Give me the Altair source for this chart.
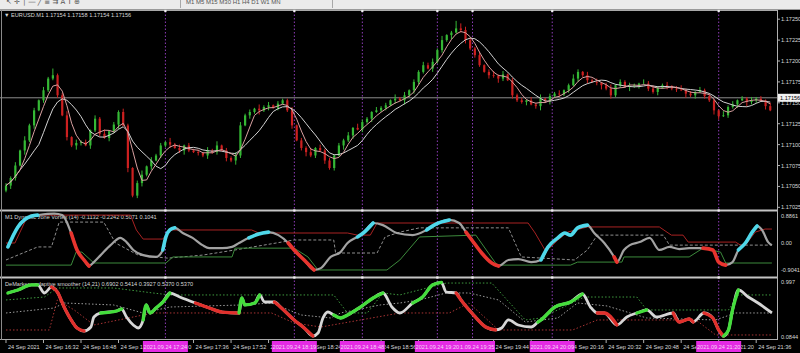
import altair as alt
import pandas as pd

# ---------------- main price panel: EURUSD, one candle every 2 minutes from 16:16 ----------------
closes = [
    1.17051, 1.17060, 1.17075, 1.17093, 1.17105, 1.17123, 1.17141, 1.17153, 1.17165, 1.17179,
    1.17183, 1.17159, 1.17135, 1.17109, 1.17099, 1.17102, 1.17103, 1.17099, 1.17117, 1.17131,
    1.17113, 1.17108, 1.17116, 1.17124, 1.17139, 1.17123, 1.17072, 1.17039, 1.17054, 1.17064,
    1.17074, 1.17081, 1.17087, 1.17099, 1.17103, 1.17100, 1.17096, 1.17093, 1.17099, 1.17093,
    1.17091, 1.17090, 1.17087, 1.17093, 1.17091, 1.17099, 1.17093, 1.17084, 1.17081, 1.17087,
    1.17123, 1.17135, 1.17139, 1.17143, 1.17141, 1.17145, 1.17147, 1.17144, 1.17149, 1.17153,
    1.17141, 1.17123, 1.17105, 1.17096, 1.17091, 1.17087, 1.17096, 1.17093, 1.17081, 1.17072,
    1.17087, 1.17099, 1.17105, 1.17111, 1.17120, 1.17118, 1.17127, 1.17131, 1.17139, 1.17141,
    1.17144, 1.17147, 1.17153, 1.17155, 1.17153, 1.17159, 1.17165, 1.17175, 1.17187, 1.17195,
    1.17191, 1.17199, 1.17213, 1.17225, 1.17231, 1.17234, 1.17239, 1.17237, 1.17225, 1.17215,
    1.17207, 1.17195, 1.17187, 1.17183, 1.17182, 1.17179, 1.17184, 1.17177, 1.17159, 1.17153,
    1.17151, 1.17153, 1.17148, 1.17146, 1.17155, 1.17152, 1.17158, 1.17161, 1.17160, 1.17165,
    1.17171, 1.17179, 1.17187, 1.17183, 1.17177, 1.17175, 1.17174, 1.17171, 1.17167, 1.17159,
    1.17171, 1.17175, 1.17169, 1.17170, 1.17171, 1.17173, 1.17173, 1.17167, 1.17163, 1.17168,
    1.17171, 1.17170, 1.17167, 1.17166, 1.17165, 1.17161, 1.17159, 1.17163, 1.17165, 1.17158,
    1.17153, 1.17141, 1.17134, 1.17135, 1.17145, 1.17148, 1.17153, 1.17155, 1.17151, 1.17153,
    1.17155, 1.17153, 1.17146, 1.17141,
]
# wick lengths beyond the body, in 0.00001 units, one digit per candle
upper_wick = ("3241523142" "8235142314" "2513242135" "1423152413" "2314251324" "4231524132"
              "2413251423" "1324153214" "2315241324" "3425129643" "2413524132" "3142513241"
              "2531424135" "1324215342" "2413523142" "3215241324" "2314")
lower_wick = ("2431524132" "2314253142" "3142515234" "2413241352" "1324231425" "3142524131"
              "2413523142" "3152413241" "2314152432" "1423251342" "3214253142" "2413524132"
              "3142413524" "2315241324" "1423152413" "2541324153" "3241")
first_open = 1.17045
candle_minutes = 2
bid_price = 1.17156
bid_text = "1.17156"
main_title = "\u25bc EURUSD.M1  1.17154 1.17158 1.17154 1.17156"
price_ticks = [1.17250, 1.17225, 1.17200, 1.17175, 1.17150, 1.17125, 1.17100, 1.17075, 1.17050, 1.17025]

# ---------------- time axis ----------------
time_ticks = [0, 16, 32, 48, 64, 80, 96, 112, 128, 144, 160, 176, 192, 208, 224, 240, 256, 272, 288, 304, 320]
time_labels = ["24 Sep 2021", "24 Sep 16:32", "24 Sep 16:48", "24 Sep 17:04", "24 Sep 17:20",
               "24 Sep 17:36", "24 Sep 17:52", "24 Sep 18:08", "24 Sep 18:24", "24 Sep 18:40",
               "24 Sep 18:56", "24 Sep 19:12", "24 Sep 19:28", "24 Sep 19:44", "24 Sep 20:00",
               "24 Sep 20:16", "24 Sep 20:32", "24 Sep 20:48", "24 Sep 21:04", "24 Sep 21:20",
               "24 Sep 21:36"]
event_minutes = [68, 123, 152, 184, 199, 233, 304]
event_labels = ["2021.09.24 17:24", "2021.09.24 18:19", "2021.09.24 18:48", "2021.09.24 19:20",
                "2021.09.24 19:35", "2021.09.24 20:09", "2021.09.24 21:20"]

# ---------------- Dynamic zone Vortex panel ----------------
vx_title = "M1 Dynamic zone Vortex (14) -0.1132 -0.2242 0.5071 0.1041"
vx_ticks = [0.8861, 0.0, -0.9041]
vx_tick_text = ["0.8861", "0.00", "-0.9041"]
vx_t = [0.8, 5.1, 10.9, 13.5, 20.6, 24.0, 27.8, 30.3, 33.3, 35.4,
        37.5, 40.4, 44.6, 48.8, 51.4, 54.3, 58.5, 64.0, 66.9, 68.2,
        69.9, 72.0, 75.4, 79.6, 83.8, 86.7, 92.2, 96.4, 99.4, 103.6,
        107.8, 112.0, 116.2, 120.4, 122.9, 127.2, 131.4, 134.3, 138.5, 142.7,
        145.7, 149.9, 152.4, 156.6, 160.8, 166.7, 173.5, 179.4, 183.6, 189.1,
        193.3, 196.2, 198.7, 202.9, 207.2, 210.1, 214.3, 218.5, 224.0, 228.2,
        231.2, 235.4, 238.3, 240.8, 243.8, 248.0, 250.9, 255.2, 259.4, 260.6,
        263.6, 266.1, 270.3, 274.5, 278.7, 283.0, 287.2, 291.4, 297.3, 301.5,
        304.0, 307.0, 309.9, 312.4, 315.4, 318.3, 320.4, 322.5, 325.1, 326.7]
vx_v = [-0.13, 0.53, 0.89, 0.92, 0.97, 0.92, 0.33, -0.23, -0.56, -0.76,
        -0.63, -0.40, -0.07, 0.17, 0.03, -0.23, -0.40, -0.46, -0.23, 0.20,
        0.43, 0.50, 0.33, 0.17, -0.07, -0.17, -0.17, -0.13, 0.0, 0.17,
        0.30, 0.36, 0.26, 0.0, -0.23, -0.56, -0.89, -0.83, -0.46, -0.30,
        0.0, 0.20, 0.33, 0.66, 0.59, 0.33, 0.26, 0.43, 0.63, 0.76,
        0.66, 0.36, 0.10, -0.33, -0.66, -0.76, -0.56, -0.53, -0.63, -0.56,
        -0.13, 0.17, 0.33, 0.26, 0.50, 0.59, 0.33, 0.0, -0.46, -0.63,
        -0.23, -0.07, 0.03, 0.17, -0.23, -0.13, -0.20, -0.17, -0.17, -0.23,
        -0.63, -0.73, -0.63, -0.23, 0.0, 0.36, 0.56, 0.43, 0.03, -0.07]
# c = above upper zone (cyan), r = below lower zone (red), n = neutral
vx_state = ("cccc nnn rrr nnnnnnnnn ccc nnnnnnnn cc nn rrr nnnnn cc nnnn cc nn rrrr nnnn "
            "cccccc nnn r nnnnnnnnn rrr nn ccc nnn").replace(" ", "")
vx_up_t = [0, 3.8, 8.0, 10.1, 53.1, 55.6, 58.5, 66.9, 69.9, 104.8, 107.8, 145.7, 149.9, 155.4, 158.3,
           222.7, 225.7, 229.9, 232.4, 235.4, 239.6, 248.0, 278.7, 283.8, 288.8, 291.0, 311.2, 313.3,
           315.4, 319.6, 323.8, 326.7]
vx_up_v = [0, 0, 0.69, 0.92, 0.92, 0.43, 0.13, 0.13, 0.43, 0.43, 0.33, 0.33, 0.26, 0.26, 0.66,
           0.66, 0.33, -0.23, -0.13, 0.10, 0.36, 0.53, 0.53, 0.26, 0.26, 0.03, 0.03, -0.07,
           -0.07, 0.36, 0.46, 0.46]
vx_dn_t = [0, 27.8, 29.9, 32.4, 37.5, 68.2, 71.2, 96.4, 97.7, 122.9, 128.8, 133.1, 162.5, 168.0,
           176.4, 200.4, 208.8, 210.1, 240.8, 243.8, 262.7, 263.6, 291.4, 297.3, 304.8, 307.0, 326.7]
vx_dn_v = [-0.73, -0.73, -0.30, -0.30, -0.66, -0.66, -0.46, -0.46, -0.17, -0.17, -0.46, -0.89,
           -0.89, -0.56, 0.20, 0.26, -0.66, -0.73, -0.73, -0.63, -0.63, -0.46, -0.46, -0.17,
           -0.30, -0.66, -0.66]
vx_mid_t = [0, 13.5, 19.4, 22.7, 41.7, 46.7, 56.4, 69.1, 83.8, 97.7, 122.9, 139.8, 140.6, 158.3,
            161.7, 168.0, 176.4, 214.3, 219.8, 242.5, 248.0, 252.2, 280.4, 283.0, 326.7]
vx_mid_v = [-0.56, -0.13, -0.13, 0.69, 0.69, 0.0, -0.40, -0.50, -0.40, -0.23, 0.10, 0.10, -0.33,
            -0.33, 0.20, 0.36, 0.50, 0.50, -0.46, -0.56, -0.23, 0.26, 0.26, -0.07, -0.07]

# ---------------- DeMarker adaptive smoother panel ----------------
dm_title = "DeMarker - adaptive smoother (14,21) 0.6902 0.5414 0.3927 0.5370 0.5370"
dm_ticks = [0.997, 0.0844]
dm_tick_text = ["0.997", "0.0844"]
dm_t = [0.8, 5.1, 10.9, 13.5, 16.4, 19.4, 21.9, 24.8, 27.8, 30.3,
        33.3, 36.2, 37.5, 40.4, 47.2, 49.3, 51.4, 54.3, 56.4, 58.5,
        59.8, 61.5, 64.0, 66.9, 69.9, 74.1, 80.8, 86.7, 92.2, 99.4,
        100.6, 101.9, 106.1, 108.2, 110.3, 114.5, 117.5, 122.9, 127.2, 130.9,
        133.1, 135.2, 137.3, 139.8, 142.7, 145.7, 151.2, 156.6, 160.8, 164.6,
        168.0, 173.5, 177.7, 181.9, 185.7, 187.8, 192.0, 194.1, 198.7, 204.6,
        208.8, 211.4, 214.3, 218.5, 224.0, 226.9, 228.2, 234.1, 240.8, 245.9,
        249.3, 252.2, 255.2, 260.6, 264.8, 269.1, 273.3, 277.5, 284.6, 287.2,
        291.4, 293.1, 297.7, 301.5, 304.0, 306.1, 308.2, 309.9, 312.4, 316.6,
        320.8, 326.7]
dm_v = [0.815, 0.865, 0.948, 0.948, 0.815, 0.914, 0.831, 0.582, 0.367, 0.234,
        0.184, 0.250, 0.416, 0.483, 0.516, 0.549, 0.416, 0.284, 0.234, 0.367,
        0.616, 0.483, 0.566, 0.665, 0.815, 0.748, 0.649, 0.566, 0.499, 0.483,
        0.732, 0.616, 0.649, 0.782, 0.665, 0.665, 0.566, 0.367, 0.234, 0.100,
        0.151, 0.400, 0.499, 0.450, 0.400, 0.450, 0.582, 0.732, 0.815, 0.582,
        0.483, 0.649, 0.748, 0.948, 0.990, 0.831, 0.815, 0.699, 0.483, 0.250,
        0.201, 0.234, 0.367, 0.284, 0.250, 0.333, 0.367, 0.582, 0.665, 0.798,
        0.582, 0.483, 0.483, 0.284, 0.416, 0.483, 0.533, 0.416, 0.483, 0.333,
        0.383, 0.333, 0.483, 0.400, 0.201, 0.100, 0.201, 0.533, 0.865, 0.748,
        0.649, 0.483]
# g = rising (green), r = falling (red), w = neutral (white)
dm_state = ("gggg ww rrrrr www gg wwww ggggg ww rrr gggg ww rrrr wwww ggggg www ggg ww rrrr "
            "wwwww gggg ww rr ww g ww rrr w rrr ggg www").replace(" ", "")
dm_up_t = [0, 16.4, 21.9, 45.9, 62.7, 69.9, 139.8, 145.7, 154.1, 160.8, 168.0, 187.8, 207.2, 221.5,
           228.2, 246.7, 269.1, 273.3, 308.2, 312.4, 326.7]
dm_up_v = [0.699, 0.748, 0.898, 0.898, 0.815, 0.782, 0.782, 0.483, 0.483, 0.815, 0.782, 0.98, 0.98,
           0.367, 0.400, 0.748, 0.748, 0.533, 0.533, 0.782, 0.782]
dm_mid_t = [0, 20.6, 24.8, 45.9, 58.5, 69.9, 100.6, 113.3, 125.9, 138.5, 142.7, 159.6, 168.0, 176.4,
            187.8, 197.5, 210.1, 221.5, 235.4, 243.8, 256.4, 273.3, 302.7, 311.2, 326.7]
dm_mid_v = [0.483, 0.566, 0.649, 0.616, 0.483, 0.582, 0.616, 0.649, 0.450, 0.400, 0.483, 0.616,
            0.649, 0.699, 0.815, 0.815, 0.699, 0.333, 0.400, 0.649, 0.599, 0.400, 0.367, 0.483, 0.483]
dm_lo_t = [0, 18.5, 21.9, 29.1, 37.5, 62.7, 113.3, 122.9, 134.3, 168.0, 189.1, 197.5, 210.1, 241.7,
           252.2, 294.3, 302.7, 326.7]
dm_lo_v = [0.201, 0.201, 0.699, 0.533, 0.284, 0.483, 0.483, 0.317, 0.250, 0.483, 0.483, 0.649,
           0.201, 0.201, 0.367, 0.367, 0.118, 0.118]

toolbar_left = "\u2196   \u271b   \u2502   \u2015   \u2571   \u2263   \u21c9   A   T   \u2295"
toolbar_periods = "M1    M5   M15   M30    H1    H4    D1    W1    MN"

# ---------------- styling ----------------
FONT = "Liberation Sans"
FS = 5.6
TXT = "#d8d8d8"
GREEN = "#35b835"
RED = "#cc2020"
CYAN = "#4fd8ea"
EV = "#8e3cb8"

# ---------------- build tables ----------------
n = len(closes)
opens = [first_open] + closes[:-1]
ups = [int(ch) for ch in upper_wick]
lows = [int(ch) for ch in lower_wick]
candles = pd.DataFrame({
    "t": [i * candle_minutes for i in range(n)],
    "open": opens,
    "close": closes,
    "high": [max(o, c) + u * 1e-5 for o, c, u in zip(opens, closes, ups)],
    "low": [min(o, c) - l * 1e-5 for o, c, l in zip(opens, closes, lows)],
    "dir": ["up" if c >= o else "down" for o, c in zip(opens, closes)],
})


def runs(ts, vs, states):
    """Split a line into coloured runs (each run also starts at the preceding point)."""
    parts = []
    seg = 0
    i = 0
    m = len(ts)
    while i < m:
        s = states[i]
        j = i
        while j + 1 < m and states[j + 1] == s:
            j += 1
        if s not in ("n", "w"):
            lo = max(i - 1, 0)
            for k in range(lo, j + 1):
                parts.append({"t": ts[k], "v": vs[k], "seg": seg, "kind": s})
            seg += 1
        i = j + 1
    return pd.DataFrame(parts)


vx_line = pd.DataFrame({"t": vx_t, "v": vx_v})
vx_col = runs(vx_t, vx_v, vx_state)
dm_line = pd.DataFrame({"t": dm_t, "v": dm_v})
dm_col = runs(dm_t, dm_v, dm_state)

ev = pd.DataFrame({"t": event_minutes, "lab": event_labels})
ev["lo"] = ev["t"] - 9.6
ev["hi"] = ev["t"] + 9.6
ev_back = ev[ev["lab"].str.endswith("19:35")]
ev_front = ev[~ev["lab"].str.endswith("19:35")]

ticks = pd.DataFrame({"t": time_ticks, "lab": time_labels})
pt = pd.DataFrame({"p": price_ticks, "lab": [f"{p:.5f}" for p in price_ticks]})
bid = pd.DataFrame({"p": [bid_price], "lab": [bid_text]})
bid["lo"] = bid["p"] - 0.000048
bid["hi"] = bid["p"] + 0.000048
vxt = pd.DataFrame({"v": vx_ticks, "lab": vx_tick_text})
dmt = pd.DataFrame({"v": dm_ticks, "lab": dm_tick_text})
one = pd.DataFrame({"a": [0]})

# ---------------- scales ----------------
xs = alt.Scale(domain=[-0.42, 326.74], range=[0, 777], nice=False, zero=False)
py = alt.Scale(domain=[1.17023, 1.17261], range=[209, 10], nice=False, zero=False)
vy = alt.Scale(domain=[-1.089, 1.023], range=[276, 212], nice=False, zero=False)
dy = alt.Scale(domain=[0.0512, 1.047], range=[339, 279], nice=False, zero=False)


def X(f="t"):
    return alt.X(f"{f}:Q", scale=xs, axis=None)


def Y(f, sc):
    return alt.Y(f"{f}:Q", scale=sc, axis=None)


def line(ts, vs, sc, **kw):
    return alt.Chart(pd.DataFrame({"t": ts, "v": vs})).mark_line(**kw).encode(x=X(), y=Y("v", sc))


def label(text, x, y, **kw):
    style = dict(align="left", baseline="middle", font=FONT, fontSize=FS, color=TXT)
    style.update(kw)
    return alt.Chart(pd.DataFrame({"s": [text]})).mark_text(**style).encode(
        x=alt.value(x), y=alt.value(y), text="s:N")


def hrule(y, x1=0, x2=777, color="#b8b8b8", w=1.0):
    return alt.Chart(one).mark_rule(color=color, strokeWidth=w).encode(
        x=alt.value(x1), x2=alt.value(x2), y=alt.value(y))


def vrule(x, y1, y2, color="#b8b8b8", w=1.0):
    return alt.Chart(one).mark_rule(color=color, strokeWidth=w).encode(
        x=alt.value(x), y=alt.value(y1), y2=alt.value(y2))


layers = []

# toolbar strip
layers.append(alt.Chart(one).mark_rect(color="#ebebeb").encode(
    x=alt.value(0), x2=alt.value(800), y=alt.value(0), y2=alt.value(9)))
layers.append(hrule(9.5, 0, 800, "#9a9a9a", 1))
layers.append(label(toolbar_left, 6, 1.5, color="#555555", fontSize=7, font="DejaVu Sans"))
layers.append(label(toolbar_periods, 186, 1.8, color="#555555", fontSize=6))
layers.append(vrule(180.5, 0, 8, "#a8a8a8"))
layers.append(vrule(332.5, 0, 8, "#a8a8a8"))

# panel frames
layers.append(hrule(10.5, 0, 777, "#a8a8a8", 1))
layers.append(hrule(210.5, 0, 777, "#c4c4c4", 2))
layers.append(hrule(277.5, 0, 777, "#c4c4c4", 2))
layers.append(hrule(339.5, 0, 777, "#a8a8a8", 1))
layers.append(vrule(1.5, 10, 340, "#8a8a8a"))
layers.append(vrule(777.5, 10, 340, "#b0b0b0"))

# event lines
layers.append(alt.Chart(ev).mark_rule(color=EV, strokeWidth=1, strokeDash=[1.5, 2]).encode(
    x=X(), y=alt.value(11), y2=alt.value(339)))

# titles (under the indicator lines)
layers.append(label(main_title, 4, 15))
layers.append(label(vx_title, 5, 216.5))
layers.append(label(dm_title, 5, 283.5))

# bid line
layers.append(alt.Chart(bid).mark_rule(color="#8c8c8c", strokeWidth=1).encode(
    y=Y("p", py), x=alt.value(0), x2=alt.value(777)))

# candles
cscale = alt.Scale(domain=["up", "down"], range=[GREEN, RED])
base = alt.Chart(candles)
layers.append(base.mark_rule(strokeWidth=1).encode(
    x=X(), y=Y("low", py), y2="high:Q", color=alt.Color("dir:N", scale=cscale, legend=None)))
layers.append(base.mark_bar(size=2.2).encode(
    x=X(), y=Y("open", py), y2="close:Q", color=alt.Color("dir:N", scale=cscale, legend=None)))

# moving averages
layers.append(base.transform_window(ma="mean(close)", frame=[-7, 0], sort=[alt.SortField("t")])
              .mark_line(color="#d2d2d2", strokeWidth=1).encode(x=X(), y=Y("ma", py)))
layers.append(base.transform_window(ma="mean(close)", frame=[-3, 0], sort=[alt.SortField("t")])
              .mark_line(color="#d8a0a0", strokeWidth=1).encode(x=X(), y=Y("ma", py)))

# vortex panel
layers.append(line(vx_mid_t, vx_mid_v, vy, color="#8e8e8e", strokeWidth=1, strokeDash=[3, 2]))
layers.append(line(vx_up_t, vx_up_v, vy, color="#a82222", strokeWidth=1))
layers.append(line(vx_dn_t, vx_dn_v, vy, color="#3c8a3c", strokeWidth=1))
layers.append(alt.Chart(vx_line).mark_line(color="#a2a2a2", strokeWidth=2.2, interpolate="monotone")
              .encode(x=X(), y=Y("v", vy)))
layers.append(alt.Chart(vx_col).mark_line(strokeWidth=3.6, interpolate="monotone", strokeCap="round")
              .encode(x=X(), y=Y("v", vy), detail="seg:N",
                      color=alt.Color("kind:N", scale=alt.Scale(domain=["c", "r"], range=[CYAN, "#e8342e"]),
                                      legend=None)))

# demarker panel
layers.append(line(dm_up_t, dm_up_v, dy, color="#3f9a3f", strokeWidth=1, strokeDash=[1.5, 2]))
layers.append(line(dm_mid_t, dm_mid_v, dy, color="#9a9a9a", strokeWidth=1, strokeDash=[1.5, 2]))
layers.append(line(dm_lo_t, dm_lo_v, dy, color="#a83434", strokeWidth=1, strokeDash=[1.5, 2]))
layers.append(alt.Chart(dm_line).mark_line(color="#d6d6d6", strokeWidth=2.8, interpolate="monotone")
              .encode(x=X(), y=Y("v", dy)))
layers.append(alt.Chart(dm_col).mark_line(strokeWidth=3.3, interpolate="monotone", strokeCap="round")
              .encode(x=X(), y=Y("v", dy), detail="seg:N",
                      color=alt.Color("kind:N", scale=alt.Scale(domain=["g", "r"], range=["#44dd3c", "#e0302c"]),
                                      legend=None)))

# event markers on panel tops
for yy in (11, 210.5, 277.5):
    layers.append(alt.Chart(ev).mark_square(color="#f0f0f0", size=5, opacity=1).encode(
        x=X(), y=alt.value(yy)))

# right-hand scales
layers.append(alt.Chart(pt).mark_rule(color="#b0b0b0").encode(
    x=alt.value(777), x2=alt.value(780), y=Y("p", py)))
layers.append(alt.Chart(pt).mark_text(align="left", baseline="middle", font=FONT, fontSize=FS, color=TXT)
              .encode(x=alt.value(781), y=Y("p", py), text="lab:N"))
layers.append(alt.Chart(bid).mark_rect(color="#f2f2f2").encode(
    x=alt.value(778), x2=alt.value(800), y=Y("lo", py), y2="hi:Q"))
layers.append(alt.Chart(bid).mark_text(align="left", baseline="middle", font=FONT, fontSize=FS, color="#000000")
              .encode(x=alt.value(780), y=Y("p", py), text="lab:N"))
layers.append(alt.Chart(vxt).mark_text(align="left", baseline="middle", font=FONT, fontSize=FS, color=TXT)
              .encode(x=alt.value(781), y=Y("v", vy), text="lab:N"))
layers.append(alt.Chart(dmt).mark_text(align="left", baseline="middle", font=FONT, fontSize=FS, color=TXT)
              .encode(x=alt.value(781), y=Y("v", dy), text="lab:N"))

# time axis
layers.append(alt.Chart(ticks).mark_rule(color="#b0b0b0").encode(
    x=X(), y=alt.value(340), y2=alt.value(343)))
layers.append(alt.Chart(ticks).mark_text(align="left", baseline="middle", font=FONT, fontSize=FS,
                                         color=TXT, dx=2).encode(x=X(), y=alt.value(346.5), text="lab:N"))

# event labels on the time axis (19:35 sits under 19:20)
for part in (ev_back, ev_front):
    layers.append(alt.Chart(part).mark_rect(color="#e42ae4").encode(
        x=X("lo"), x2="hi:Q", y=alt.value(341), y2=alt.value(352)))
    layers.append(alt.Chart(part).mark_text(align="center", baseline="middle", font=FONT, fontSize=FS,
                                            color="#f6d6f6").encode(x=X(), y=alt.value(346.5), text="lab:N"))

chart = (
    alt.layer(*layers)
    .resolve_scale(y="independent", color="independent")
    .properties(width=800, height=353, background="#000000", padding=0,
                autosize=alt.AutoSizeParams(type="none"))
    .configure_view(stroke=None)
)

chart.save("out.html", embed_options={"renderer": "svg", "actions": False})
